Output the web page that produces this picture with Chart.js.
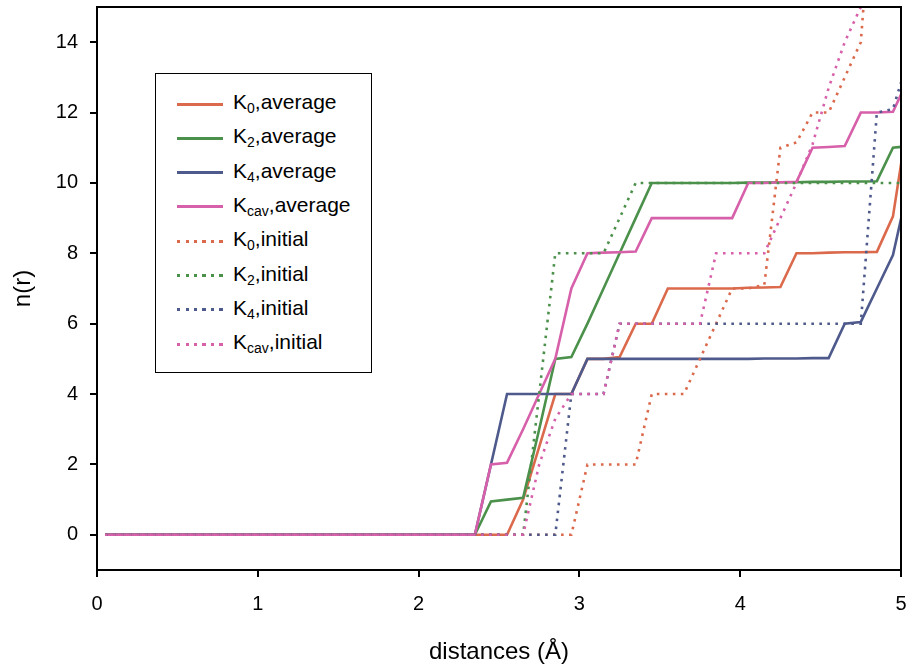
<!DOCTYPE html>
<html>
<head>
<meta charset="utf-8">
<script src="https://cdn.jsdelivr.net/npm/chart.js@4.4.1/dist/chart.umd.min.js"></script>
<style>
  html, body { margin: 0; padding: 0; background: #fff; }
  #wrap { position: relative; width: 907px; height: 664px; font-family: "Liberation Sans", Arial, sans-serif; }
  #legend { position: absolute; left: 155px; top: 73px; width: 215px; height: 298px; border: 1.5px solid #000; background: #fff; }
  .row { position: absolute; left: 0; width: 100%; height: 0; }
  .swatch { position: absolute; left: 21px; width: 46px; height: 3px; top: -1.5px; }
  .txt { position: absolute; left: 77px; top: -13px; font-size: 21px; line-height: 21px; color: #000; white-space: nowrap; }
  .txt span { font-size: 14px; vertical-align: -4px; }
</style>
</head>
<body>
<div id="wrap">
  <canvas id="chart" width="907" height="664"></canvas>
  <div id="legend"></div>
</div>
<script>
// distances sampled every 0.1 A (bin centres)
const distances = [0.05, 0.15, 0.25, 0.35, 0.45, 0.55, 0.65, 0.75, 0.85, 0.95,
  1.05, 1.15, 1.25, 1.35, 1.45, 1.55, 1.65, 1.75, 1.85, 1.95,
  2.05, 2.15, 2.25, 2.35, 2.45, 2.55, 2.65, 2.75, 2.85, 2.95,
  3.05, 3.15, 3.25, 3.35, 3.45, 3.55, 3.65, 3.75, 3.85, 3.95,
  4.05, 4.15, 4.25, 4.35, 4.45, 4.55, 4.65, 4.75, 4.85, 4.95, 5.05];

const zeros = [0, 0, 0, 0, 0, 0, 0, 0, 0, 0, 0, 0, 0, 0, 0, 0, 0, 0, 0, 0, 0, 0, 0, 0];  // 0.05 .. 2.35

const k0Average = zeros.concat([0, 0, 1, 2.5, 4, 4, 5, 5, 5.05, 6, 6, 7, 7, 7, 7, 7, 7.02, 7.03, 7.04, 8, 8, 8.02, 8.03, 8.03, 8.04, 9.05, 12]);
const k2Average = zeros.concat([0.95, 1, 1.05, 3, 5, 5.05, 6, 7, 8, 9, 10, 10, 10, 10, 10, 10, 10.01, 10.01, 10.02, 10.02, 10.03, 10.03, 10.04, 10.04, 10.05, 11, 11.05]);
const k4Average = zeros.concat([2, 4, 4, 4, 4, 4, 5, 5, 5, 5, 5, 5, 5, 5, 5, 5, 5, 5.01, 5.01, 5.01, 5.02, 5.02, 6, 6.05, 7, 7.95, 10]);
const kcavAverage = zeros.concat([2, 2.05, 3, 4, 5, 7, 8, 8.02, 8.03, 8.05, 9, 9, 9, 9, 9, 9, 10, 10, 10.02, 10.03, 11, 11.02, 11.05, 12, 12, 12.02, 13]);

const k0Initial = zeros.concat([0, 0, 0, 0, 0, 0, 2, 2, 2, 2, 4, 4, 4, 5, 6, 7, 7, 7.1, 11, 11.15, 12, 12, 13, 14, 20, 22, 24]);
const k2Initial = zeros.concat([0, 0, 0, 4, 8, 8, 8, 8, 9, 10, 10, 10, 10, 10, 10, 10, 10, 10, 10, 10, 10, 10, 10, 10, 10, 10, 10]);
const k4Initial = zeros.concat([0, 0, 0, 0, 0, 4, 4, 4, 6, 6, 6, 6, 6, 6, 6, 6, 6, 6, 6, 6, 6, 6, 6, 6, 12, 12.1, 13.6]);
const kcavInitial = zeros.concat([0, 0, 0, 2, 3.3, 4, 4, 4, 6, 6, 6, 6, 6, 6, 8, 8, 8, 8, 9, 10, 11.1, 12.7, 14, 15, 16, 17, 18]);

const xTicks = [0, 1, 2, 3, 4, 5];
const yTicks = [0, 2, 4, 6, 8, 10, 12, 14];

const subs = ["0", "2", "4", "cav"];
const colors = ["#db6a4d", "#4b914b", "#4f5a8c", "#d760aa"];
const averages = [k0Average, k2Average, k4Average, kcavAverage];
const initials = [k0Initial, k2Initial, k4Initial, kcavInitial];

const FONT = '"Liberation Sans", Arial, sans-serif';

const datasets = [];
averages.forEach(function (vals, i) {
  datasets.push({ sub: subs[i], kind: "average", label: "K" + subs[i] + ",average", data: vals,
    borderColor: colors[i], borderWidth: 2.6, borderDash: [] });
});
initials.forEach(function (vals, i) {
  datasets.push({ sub: subs[i], kind: "initial", label: "K" + subs[i] + ",initial", data: vals,
    borderColor: colors[i], borderWidth: 2.6, borderDash: [2.6, 5.4] });
});
datasets.forEach(function (d, i) {
  d.data = d.data.map(function (v, j) { return { x: distances[j], y: v }; });
  d.pointRadius = 0;
  d.tension = 0;
  d.fill = false;
  d.order = 20 - i; // later series on top
});

// closes the box on top and right
const frame = {
  id: "frame",
  afterDatasetsDraw(chart) {
    const a = chart.chartArea;
    const ctx = chart.ctx;
    ctx.save();
    ctx.strokeStyle = "#000";
    ctx.lineWidth = 2;
    ctx.beginPath();
    ctx.moveTo(a.left, a.top);
    ctx.lineTo(a.right, a.top);
    ctx.lineTo(a.right, a.bottom);
    ctx.stroke();
    ctx.restore();
  }
};

function noEdgePadding(s) {
  s.paddingTop = 0;
  s.paddingBottom = 0;
  s.paddingLeft = 0;
  s.paddingRight = 0;
}

new Chart(document.getElementById("chart"), {
  type: "line",
  data: { datasets },
  options: {
    responsive: false,
    animation: false,
    devicePixelRatio: 1,
    layout: { padding: { top: 7, right: 6, left: 0, bottom: 0 } },
    plugins: { legend: { display: false }, tooltip: { enabled: false } },
    scales: {
      x: {
        type: "linear", min: 0, max: 5,
        afterBuildTicks(s) { s.ticks = xTicks.map(function (v) { return { value: v }; }); },
        afterFit(s) { s.height = 94; noEdgePadding(s); },
        grid: { display: true, drawOnChartArea: false, drawTicks: true, tickLength: 7, color: "#000", lineWidth: 2 },
        border: { display: true, color: "#000", width: 2 },
        ticks: { color: "#000", font: { family: FONT, size: 20 }, padding: 15, maxRotation: 0 },
        title: { display: true, text: "distances (Å)", color: "#000", font: { family: FONT, size: 24 }, padding: { top: 0, bottom: -3 } }
      },
      y: {
        type: "linear", min: -1, max: 15,
        afterBuildTicks(s) { s.ticks = yTicks.map(function (v) { return { value: v }; }); },
        afterFit(s) { s.width = 97; noEdgePadding(s); },
        grid: { display: true, drawOnChartArea: false, drawTicks: true, tickLength: 7, color: "#000", lineWidth: 2 },
        border: { display: true, color: "#000", width: 2 },
        ticks: { color: "#000", font: { family: FONT, size: 20 }, padding: 12 },
        title: { display: true, text: "n(r)", color: "#000", font: { family: FONT, size: 24 }, padding: { top: 9, bottom: 0 } }
      }
    }
  },
  plugins: [frame]
});

// legend with subscripts
const legend = document.getElementById("legend");
datasets.forEach(function (d, i) {
  const row = document.createElement("div");
  row.className = "row";
  row.style.top = (30 + i * 34.3) + "px";
  const sw = document.createElement("div");
  sw.className = "swatch";
  if (d.kind === "average") {
    sw.style.background = d.borderColor;
  } else {
    sw.style.background = "repeating-linear-gradient(to right, " + d.borderColor + " 0 3px, transparent 3px 8.5px)";
  }
  const t = document.createElement("div");
  t.className = "txt";
  t.innerHTML = "K<span>" + d.sub + "</span>," + d.kind;
  row.appendChild(sw);
  row.appendChild(t);
  legend.appendChild(row);
});
</script>
</body>
</html>
